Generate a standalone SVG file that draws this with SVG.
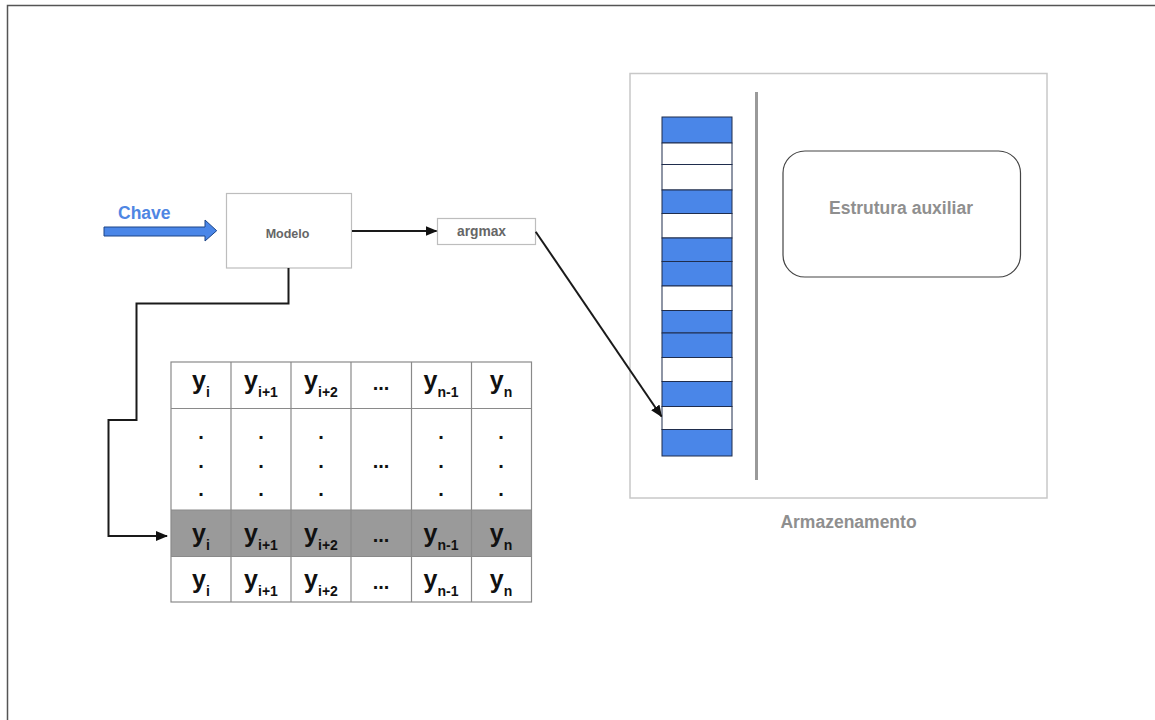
<svg xmlns="http://www.w3.org/2000/svg" width="1155" height="720" viewBox="0 0 1155 720">
<defs>
<marker id="ah" viewBox="0 0 12 10" refX="11" refY="5" markerWidth="12" markerHeight="10" markerUnits="userSpaceOnUse" orient="auto">
<path d="M0,0 L12,5 L0,10 Z" fill="#111"/>
</marker>
<style>
.lbl{font-family:"Liberation Sans",Arial,sans-serif;font-weight:bold;}
.gray{fill:#8f8f8f;}
.dgray{fill:#666;}
.box{fill:#fff;stroke:#bdbdbd;stroke-width:1.2;}
.conn{fill:none;stroke:#1a1a1a;stroke-width:2;}
.cell{stroke:#1f2d4d;stroke-width:1;}
.blue{fill:#4a86e8;}
.white{fill:#fff;}
.tbl{fill:none;stroke:#8a8a8a;stroke-width:1.2;}
.y{font-family:"Liberation Sans",Arial,sans-serif;font-weight:bold;font-size:25px;fill:#111;}
.sub{font-size:14px;}
.dot{font-family:"Liberation Sans",Arial,sans-serif;font-weight:bold;font-size:20px;fill:#111;text-anchor:middle;}
</style>
</defs>
<rect width="1155" height="720" fill="#fff"/>
<path d="M7.5,725 V5.5 H1160" fill="none" stroke="#555" stroke-width="1.5"/>

<g id="chave">
<path d="M104,227 H205 V220 L216.7,230.7 L205,241 V236 H104 Z" fill="#4a86e8" stroke="#1c4587" stroke-width="1"/>
<text x="118" y="219" class="lbl" font-size="17.5" fill="#4f86e3">Chave</text>
</g>

<g id="modelo">
<rect x="226.5" y="193.5" width="125" height="74.5" class="box"/>
<text x="287.5" y="237.5" class="lbl dgray" font-size="12.5" text-anchor="middle">Modelo</text>
</g>

<g id="argmax">
<rect x="437.5" y="218.5" width="98" height="26" class="box"/>
<text x="481.5" y="235.5" class="lbl dgray" font-size="13.8" text-anchor="middle">argmax</text>
</g>

<g id="armazenamento">
<rect x="630" y="73.5" width="417" height="424.5" fill="#fff" stroke="#c8c8c8" stroke-width="1.5"/>
<line x1="756.5" y1="92" x2="756.5" y2="480" stroke="#9a9a9a" stroke-width="3"/>
<text x="848.5" y="528" class="lbl gray" font-size="17.5" text-anchor="middle">Armazenamento</text>
</g>

<g id="slots">
<rect x="662" y="117" width="70" height="26" class="cell blue"/>
<rect x="662" y="143" width="70" height="21.5" class="cell white"/>
<rect x="662" y="164.5" width="70" height="25.5" class="cell white"/>
<rect x="662" y="190" width="70" height="23.5" class="cell blue"/>
<rect x="662" y="213.5" width="70" height="24.5" class="cell white"/>
<rect x="662" y="238" width="70" height="23.5" class="cell blue"/>
<rect x="662" y="261.5" width="70" height="24.5" class="cell blue"/>
<rect x="662" y="286" width="70" height="24.5" class="cell white"/>
<rect x="662" y="310.5" width="70" height="22.5" class="cell blue"/>
<rect x="662" y="333" width="70" height="24.5" class="cell blue"/>
<rect x="662" y="357.5" width="70" height="24" class="cell white"/>
<rect x="662" y="381.5" width="70" height="25" class="cell blue"/>
<rect x="662" y="406.5" width="70" height="23" class="cell white"/>
<rect x="662" y="429.5" width="70" height="26.5" class="cell blue"/>
</g>

<g id="estrutura">
<rect x="783" y="151" width="237.5" height="126" rx="22" ry="22" fill="#fff" stroke="#444" stroke-width="1.2"/>
<text x="901" y="213.5" class="lbl gray" font-size="17.5" text-anchor="middle">Estrutura auxiliar</text>
</g>

<g id="tabela">
<rect x="171" y="510" width="360.5" height="46.5" fill="#9a9a9a"/>
<rect x="171" y="362" width="360.5" height="240" class="tbl"/>
<path d="M171,408.5 H531.5 M171,510 H531.5 M171,556.5 H531.5 M231,362 V602 M291,362 V602 M351,362 V602 M411.5,362 V602 M471.5,362 V602" class="tbl"/>
<!-- row 1 -->
<text class="y" text-anchor="middle"><tspan x="201" y="389">y</tspan><tspan class="sub" dy="8">i</tspan></text>
<text class="y" text-anchor="middle"><tspan x="261" y="389">y</tspan><tspan class="sub" dy="8">i+1</tspan></text>
<text class="y" text-anchor="middle"><tspan x="321" y="389">y</tspan><tspan class="sub" dy="8">i+2</tspan></text>
<text x="381" y="390" class="dot">...</text>
<text class="y" text-anchor="middle"><tspan x="441" y="389">y</tspan><tspan class="sub" dy="8">n-1</tspan></text>
<text class="y" text-anchor="middle"><tspan x="501" y="389">y</tspan><tspan class="sub" dy="8">n</tspan></text>
<!-- dots -->
<text class="dot" x="201" y="439">.</text><text class="dot" x="201" y="468">.</text><text class="dot" x="201" y="496">.</text>
<text class="dot" x="261" y="439">.</text><text class="dot" x="261" y="468">.</text><text class="dot" x="261" y="496">.</text>
<text class="dot" x="321" y="439">.</text><text class="dot" x="321" y="468">.</text><text class="dot" x="321" y="496">.</text>
<text class="dot" x="381" y="468">...</text>
<text class="dot" x="441" y="439">.</text><text class="dot" x="441" y="468">.</text><text class="dot" x="441" y="496">.</text>
<text class="dot" x="501" y="439">.</text><text class="dot" x="501" y="468">.</text><text class="dot" x="501" y="496">.</text>
<!-- row 3 (highlighted) -->
<text class="y" text-anchor="middle"><tspan x="201" y="541.5">y</tspan><tspan class="sub" dy="8">i</tspan></text>
<text class="y" text-anchor="middle"><tspan x="261" y="541.5">y</tspan><tspan class="sub" dy="8">i+1</tspan></text>
<text class="y" text-anchor="middle"><tspan x="321" y="541.5">y</tspan><tspan class="sub" dy="8">i+2</tspan></text>
<text x="381" y="542" class="dot">...</text>
<text class="y" text-anchor="middle"><tspan x="441" y="541.5">y</tspan><tspan class="sub" dy="8">n-1</tspan></text>
<text class="y" text-anchor="middle"><tspan x="501" y="541.5">y</tspan><tspan class="sub" dy="8">n</tspan></text>
<!-- row 4 -->
<text class="y" text-anchor="middle"><tspan x="201" y="588">y</tspan><tspan class="sub" dy="8">i</tspan></text>
<text class="y" text-anchor="middle"><tspan x="261" y="588">y</tspan><tspan class="sub" dy="8">i+1</tspan></text>
<text class="y" text-anchor="middle"><tspan x="321" y="588">y</tspan><tspan class="sub" dy="8">i+2</tspan></text>
<text x="381" y="588.5" class="dot">...</text>
<text class="y" text-anchor="middle"><tspan x="441" y="588">y</tspan><tspan class="sub" dy="8">n-1</tspan></text>
<text class="y" text-anchor="middle"><tspan x="501" y="588">y</tspan><tspan class="sub" dy="8">n</tspan></text>
</g>

<g id="connectors">
<path d="M352,231 H436.5" class="conn" marker-end="url(#ah)"/>
<path d="M535.7,231.7 L661.5,416.5" class="conn" marker-end="url(#ah)"/>
<path d="M288.5,268 V303.5 H136.5 V420 H108.5 V536 H167" class="conn" marker-end="url(#ah)"/>
</g>
</svg>
